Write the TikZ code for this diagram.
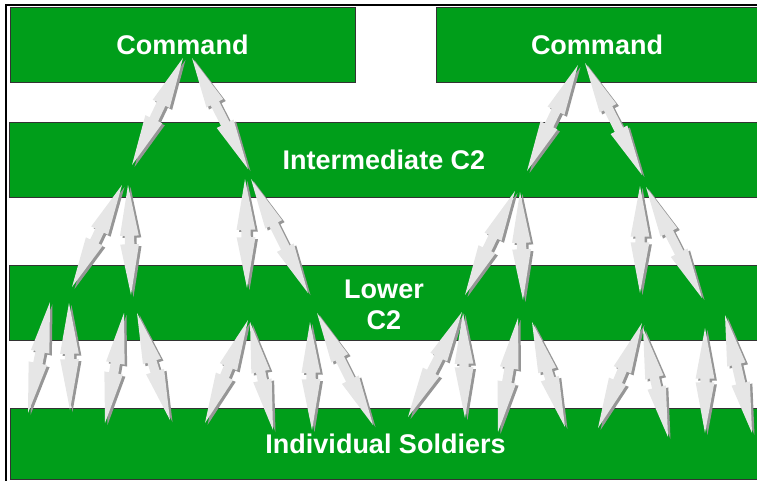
\documentclass[tikz,border=0pt]{standalone}
\usepackage{fontspec}
\setmainfont{Liberation Sans}
\usetikzlibrary{shapes.arrows, shadows, calc}

\definecolor{bandgreen}{RGB}{0,158,26}
\definecolor{arrowgray}{RGB}{230,230,230}
\definecolor{shadowgray}{RGB}{150,150,150}

\tikzset{
  band/.style={draw=black!80, line width=0.8pt, fill=bandgreen},
  bandtext/.style={text=white, font=\fontsize{27}{31}\selectfont\bfseries,
    align=center, inner sep=0pt},
  dblarrow/.style={double arrow, fill=arrowgray, inner xsep=0pt, inner ysep=4.5pt,
    double arrow head extend=4.7pt, double arrow tip angle=21,
    general shadow={fill=shadowgray, shadow xshift=2.5pt, shadow yshift=-2pt}}
}

% double headed block arrow between two named points
\newcommand{\link}[2]{%
  \path let \p1=($(#2)-(#1)$), \n1={veclen(\x1,\y1)} in
    (#1) -- node[dblarrow, sloped, minimum height=\n1] {} (#2);}

\begin{document}
\begin{tikzpicture}[x=1pt, y=-1pt]
    \useasboundingbox (0,0) rectangle (757,480);
    \draw[line width=2pt] (6,5) rectangle (780,500);

    % bands, running off the right edge
    \draw[band] (10,7) rectangle (355,82);
    \draw[band] (436,7) rectangle (780,82);
    \draw[band] (9,122) rectangle (780,197);
    \draw[band] (9,265) rectangle (780,340);
    \draw[band] (10,408) rectangle (780,479);

    \node[bandtext] (cmdL) at (182.5,44.5) {Command};
    \node[bandtext] (cmdR) at (597,44.5) {Command};
    \node[bandtext] (mid) at (384,160) {Intermediate C2};
    \node[bandtext] (low) at (384,305) {Lower\\C2};
    \node[bandtext] (base) at (385.5,443.5) {Individual Soldiers};

    % start/end of every arrow
    \foreach \i/\s/\e in {
        1/{183,58}/{132,165}, 2/{192,58}/{248,169},
        3/{122,185}/{72,287}, 4/{128,185}/{131,295},
        5/{245,179}/{247,288}, 6/{251,179}/{308,293},
        7/{50,302}/{28,413}, 8/{69,303}/{70,410},
        9/{124,313}/{105,423}, 10/{137,313}/{170,420},
        11/{248,320}/{205,423}, 12/{250,322}/{273,430},
        13/{310,322}/{312,430}, 14/{317,313}/{373,425},
        15/{578,65}/{527,171}, 16/{585,63}/{642,175},
        17/{515,191}/{465,295}, 18/{520,192}/{523,300},
        19/{640,186}/{640,293}, 20/{646,187}/{702,298},
        21/{462,312}/{408,417}, 22/{463,313}/{465,418},
        23/{518,318}/{498,432}, 24/{532,322}/{565,427},
        25/{642,323}/{598,428}, 26/{643,328}/{668,437},
        27/{705,328}/{705,433}, 28/{725,315}/{752,433}}{
        \coordinate (s\i) at (\s);
        \coordinate (e\i) at (\e);
        \link{s\i}{e\i}
    }
\end{tikzpicture}
\end{document}
